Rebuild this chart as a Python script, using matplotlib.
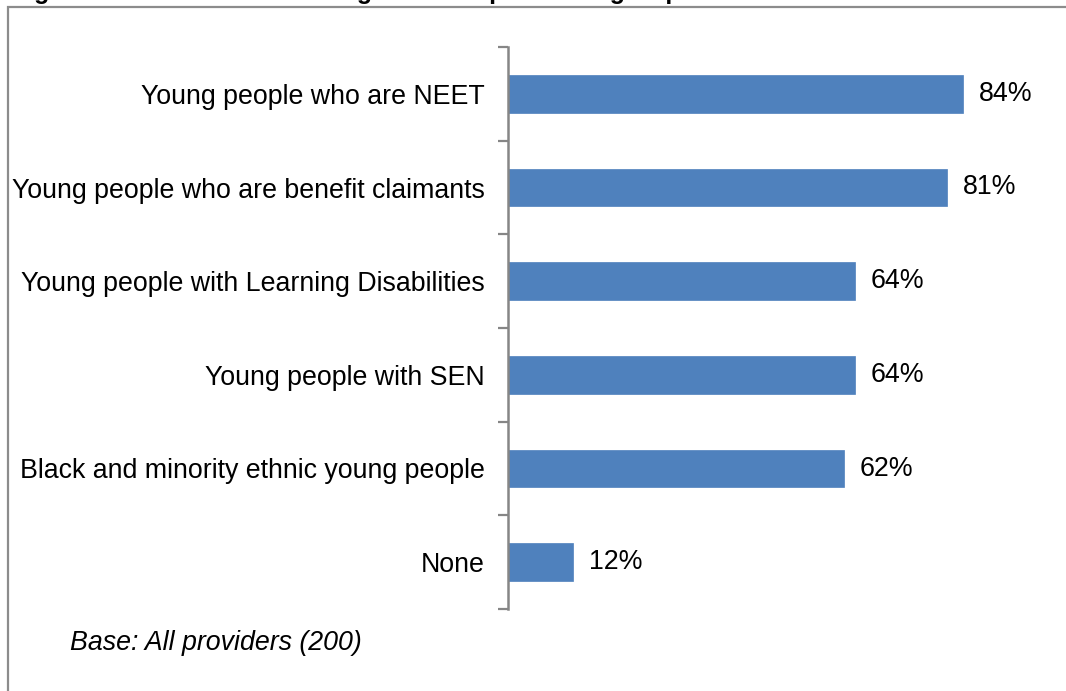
import numpy as np
import matplotlib
matplotlib.use("Agg")
import matplotlib.pyplot as plt
from matplotlib.patches import Rectangle

# data
categories = [
    "Young people who are NEET",
    "Young people who are benefit claimants",
    "Young people with Learning Disabilities",
    "Young people with SEN",
    "Black and minority ethnic young people",
    "None",
]
values = [84, 81, 64, 64, 62, 12]
value_labels = ["84%", "81%", "64%", "64%", "62%", "12%"]
title_text = "Figure 3.5: Providers focusing on these particular groups"
base_note = "Base: All providers (200)"

W, H = 1066, 691
FS = 19.3
plt.rcParams["font.family"] = ["Liberation Sans", "DejaVu Sans"]

fig = plt.figure(figsize=(W / 100, H / 100), dpi=100)

# grey frame around the chart area (runs off right and bottom edges)
fig.patches.append(Rectangle((8 / W, -0.1), 1.2, 1 - 6.5 / H + 0.1,
                             transform=fig.transFigure, fill=False,
                             edgecolor="#8c8c8c", linewidth=1.6))

# title sits above the canvas, only its descenders show
fig.text(12 / W, 1 + 1.5 / H, title_text, fontsize=18, fontweight="bold",
         ha="left", va="baseline")

ax = fig.add_axes([508 / W, 1 - 609 / H, (1050 - 508) / W, (609 - 47) / H])

n = len(categories)
ypos = np.arange(n)
ax.barh(ypos, values, height=0.4, color="#4f81bd", edgecolor="#4f81bd",
        linewidth=0.5, zorder=2)
ax.set_xlim(0, 100)
ax.set_ylim(n - 0.5, -0.5)

for y, v, lab in zip(ypos, values, value_labels):
    ax.text(v + 16 / 5.42, y, lab, fontsize=FS, va="center", ha="left")

# category boundaries get ticks, labels sit at centres
ax.set_yticks(np.arange(n + 1) - 0.5)
ax.set_yticklabels([])
ax.set_yticks(ypos, minor=True)
ax.set_yticklabels(categories, minor=True, fontsize=FS)
ax.tick_params(axis="y", which="major", length=7, width=1.6, color="#868686",
               direction="out")
ax.tick_params(axis="y", which="minor", length=0, pad=16.5)

ax.set_xticks([])
for side in ["top", "right", "bottom"]:
    ax.spines[side].set_visible(False)
ax.spines["left"].set_color("#868686")
ax.spines["left"].set_linewidth(1.8)
ax.set_facecolor("none")

fig.text(70 / W, 1 - 643 / H, base_note, fontsize=FS, style="italic",
         ha="left", va="center")

fig.savefig("out.png", dpi=100)
